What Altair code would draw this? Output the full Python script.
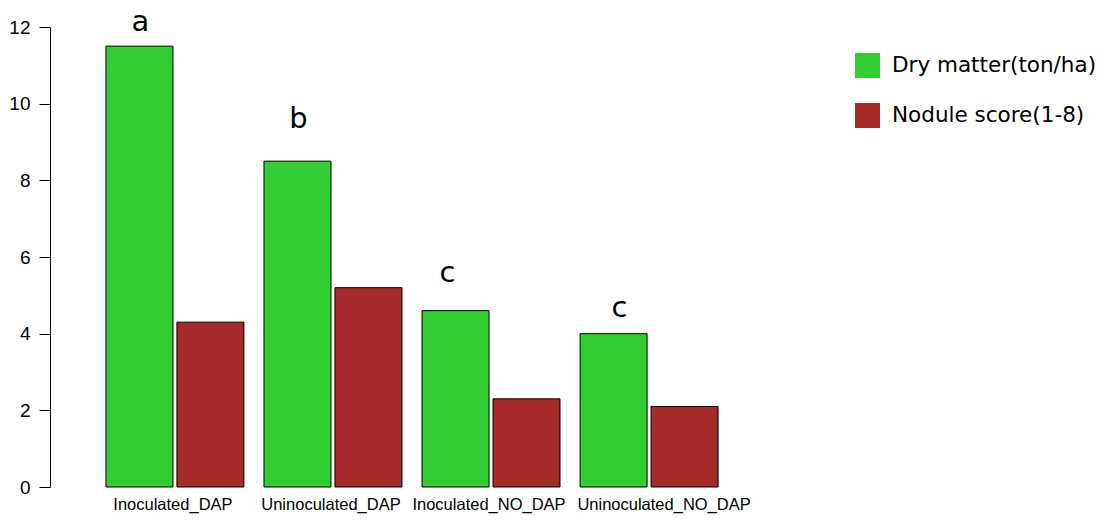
import altair as alt
import pandas as pd

treatments = ["Inoculated_DAP", "Uninoculated_DAP", "Inoculated_NO_DAP", "Uninoculated_NO_DAP"]
measures = ["Dry matter(ton/ha)", "Nodule score(1-8)"]
dry_matter = [11.5, 8.5, 4.6, 4.0]
nodule_score = [4.3, 5.2, 2.3, 2.1]
letters = ["a", "b", "c", "c"]
letter_y = [11.9, 9.37, 5.35, 4.43]
colors = ["#32CD32", "#A52A2A"]

rows = []
for t, d, n in zip(treatments, dry_matter, nodule_score):
    rows.append({"treatment": t, "measure": measures[0], "value": d})
    rows.append({"treatment": t, "measure": measures[1], "value": n})
df = pd.DataFrame(rows)

lab = pd.DataFrame({"treatment": treatments, "measure": [measures[0]] * 4,
                    "letter": letters, "ly": letter_y, "idx": [0, 1, 2, 3]})
names = pd.DataFrame({"treatment": treatments, "idx": [0, 1, 2, 3]})

x_enc = alt.X("treatment:N", sort=treatments,
              scale=alt.Scale(paddingInner=0.127, paddingOuter=0.354),
              axis=alt.Axis(title=None, labels=False, domain=False, ticks=False))
xo_enc = alt.XOffset("measure:N", sort=measures, scale=alt.Scale(paddingInner=0.056))

bars = alt.Chart(df).mark_bar(stroke="black", strokeWidth=1).encode(
    x=x_enc,
    xOffset=xo_enc,
    y=alt.Y("value:Q", scale=alt.Scale(domain=[0, 12], nice=False),
            axis=alt.Axis(title=None, values=[0, 2, 4, 6, 8, 10, 12], grid=False,
                          domainColor="black", tickColor="black", tickSize=11,
                          labelFont="Liberation Sans", labelFontSize=19,
                          labelColor="black", labelPadding=9)),
    color=alt.Color("measure:N", sort=measures,
                    scale=alt.Scale(domain=measures, range=colors),
                    legend=alt.Legend(title=None, orient="none", legendX=805, legendY=26,
                                      symbolType="square", symbolSize=625,
                                      symbolStrokeWidth=0, labelFont="DejaVu Sans",
                                      labelFontSize=21.5, labelColor="black",
                                      labelOffset=12, rowPadding=25, labelLimit=400)),
)


def letter_layer(cond, dx):
    return alt.Chart(lab).transform_filter(cond).mark_text(
        font="DejaVu Sans", fontSize=29, baseline="alphabetic", color="black", dx=dx
    ).encode(
        x=alt.X("treatment:N", sort=treatments),
        xOffset=alt.XOffset("measure:N", sort=measures),
        y=alt.Y("ly:Q"),
        text="letter:N",
    )


def name_layer(cond, dx):
    return alt.Chart(names).transform_filter(cond).mark_text(
        font="Liberation Sans", fontSize=16.5, baseline="top", color="black", dx=dx
    ).encode(
        x=alt.X("treatment:N", sort=treatments),
        y=alt.value(470),
        text="treatment:N",
    )


layers = [
    bars,
    letter_layer("datum.idx < 2", 1),
    letter_layer("datum.idx == 2", -8),
    letter_layer("datum.idx == 3", 6),
    name_layer("datum.idx < 3", -2),
    name_layer("datum.idx == 3", 15),
]

chart = alt.layer(*layers).properties(
    width=724, height=460,
    autosize=alt.AutoSizeParams(type="none"),
    padding={"left": 42, "top": 19, "right": 328, "bottom": 30},
).configure_view(stroke=None)

chart.save("out.html", embed_options={"renderer": "svg", "actions": False})
